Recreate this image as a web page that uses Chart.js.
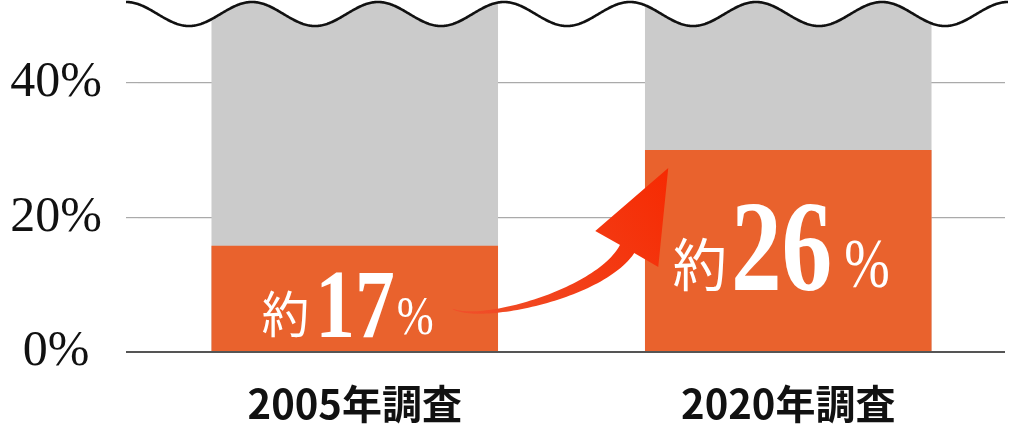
<!DOCTYPE html>
<html><head><meta charset="utf-8">
<script src="https://cdn.jsdelivr.net/npm/chart.js@4.4.1/dist/chart.umd.min.js"></script>
<style>html,body{margin:0;padding:0;background:#fff;} #wrap{width:1022px;height:427px;position:relative;}</style>
</head><body><div id="wrap"><canvas id="c"></canvas></div>
<script>
// ---- data ----
const categories = ['2005年調査', '2020年調査'];
const shareValues = [15.8, 30.0];      // orange bars (as drawn)
const totalValues = [100, 100];        // gray background bars, cut off by the wavy break
const labelValues = ['17', '26'];      // printed values
const labelPrefix = '約';
const labelSuffix = '%';
const yTicks = [0, 20, 40];
const yMax = 52;

// ---- styles ----
const ORANGE = '#E9622D', GRAY = '#CBCBCB';
const labelStyles = [
  {num: 97, cjk: 50, pct: 54, sx: 0.82, gap1: 6, gap2: 2},
  {num: 130, cjk: 57, pct: 70, sx: 0.78, gap1: 4, gap2: 12}
];

const overlay = {
  id: 'overlay',
  afterDatasetsDraw(chart) {
    const ctx = chart.ctx, a = chart.chartArea;
    // wavy break at the top
    const left = a.left - 12, right = a.right + 3;
    const period = (right - left) / 7, mid = a.top + 12, amp = 12;
    const wy = x => mid - amp * Math.cos(2 * Math.PI * (x - left) / period);
    ctx.save();
    ctx.beginPath();
    ctx.moveTo(left, 0);
    for (let x = left; x <= right; x += 1) ctx.lineTo(x, wy(x));
    ctx.lineTo(right, wy(right)); ctx.lineTo(right, 0); ctx.closePath();
    ctx.fillStyle = '#fff'; ctx.fill();
    ctx.beginPath();
    for (let x = left; x <= right; x += 1) { if (x === left) ctx.moveTo(x, wy(x)); else ctx.lineTo(x, wy(x)); }
    ctx.lineTo(right, wy(right));
    ctx.strokeStyle = '#111'; ctx.lineWidth = 2.6; ctx.lineJoin = 'round'; ctx.stroke();
    ctx.restore();

    const bars = chart.getDatasetMeta(0).data;
    // arrow
    const b0 = bars[0], b1 = bars[1];
    const P0 = [b0.x + 98, b0.base - 42], C1 = [b0.x + 128, b0.base - 28];
    const C2 = [b1.x - 185, b1.base - 58], P3 = [b1.x - 160, b1.base - 104];
    const tip = [b1.x - 120, b1.y + 18];
    const w1 = [b1.x - 193, b1.base - 120], w2 = [b1.x - 130, b1.base - 84];
    const bez = (t, i) => { const u = 1 - t; return u*u*u*P0[i] + 3*u*u*t*C1[i] + 3*u*t*t*C2[i] + t*t*t*P3[i]; };
    const dbez = (t, i) => { const u = 1 - t; return 3*u*u*(C1[i]-P0[i]) + 6*u*t*(C2[i]-C1[i]) + 3*t*t*(P3[i]-C2[i]); };
    const N = 60, up = [], dn = [];
    for (let k = 0; k <= N; k++) {
      const t = k / N; const x = bez(t,0), y = bez(t,1);
      let dx = dbez(t,0), dy = dbez(t,1); const l = Math.hypot(dx, dy) || 1; dx /= l; dy /= l;
      const w = (0.8 + 16 * Math.pow(t, 1.3)) / 2;
      up.push([x + dy * w, y - dx * w]); dn.push([x - dy * w, y + dx * w]);
    }
    const grad = ctx.createLinearGradient(P0[0], P0[1], tip[0], tip[1]);
    grad.addColorStop(0, '#F0502A'); grad.addColorStop(1, '#F62A02');
    ctx.save();
    ctx.fillStyle = grad;
    ctx.beginPath();
    up.forEach((p, k) => k ? ctx.lineTo(p[0], p[1]) : ctx.moveTo(p[0], p[1]));
    for (let k = dn.length - 1; k >= 0; k--) ctx.lineTo(dn[k][0], dn[k][1]);
    ctx.closePath(); ctx.fill();
    ctx.beginPath(); ctx.moveTo(tip[0], tip[1]); ctx.lineTo(w1[0], w1[1]);
    ctx.lineTo((w1[0]+w2[0])/2 + 4, (w1[1]+w2[1])/2 + 2); ctx.lineTo(w2[0], w2[1]); ctx.closePath(); ctx.fill();
    ctx.restore();

    // value labels inside orange bars
    bars.forEach((bar, i) => {
      const s = labelStyles[i];
      const cy = (bar.y + bar.base) / 2;
      const base = cy + 39;
      ctx.save();
      ctx.fillStyle = '#fff'; ctx.textBaseline = 'alphabetic'; ctx.textAlign = 'left';
      const fCjk = `400 ${s.cjk}px "Noto Sans CJK JP"`;
      const fNum = `bold ${s.num}px "Liberation Serif"`;
      const fPct = `400 ${s.pct}px "Liberation Serif"`;
      ctx.font = fCjk; const wC = ctx.measureText(labelPrefix).width * 0.95;
      ctx.font = fNum; const wN = ctx.measureText(labelValues[i]).width * s.sx;
      ctx.font = fPct; const wP = ctx.measureText(labelSuffix).width * s.sx;
      const total = wC + s.gap1 + wN + s.gap2 + wP;
      let x = bar.x - 7 - total / 2;
      const draw = (txt, font, sx, y) => { ctx.save(); ctx.font = font; ctx.translate(x, y); ctx.scale(sx, 1); ctx.fillText(txt, 0, 0); ctx.restore(); };
      draw(labelPrefix, fCjk, 0.95, base - 4); x += wC + s.gap1;
      draw(labelValues[i], fNum, s.sx, base); x += wN + s.gap2;
      draw(labelSuffix, fPct, s.sx, base - 3);
      ctx.restore();
    });
  }
};

new Chart(document.getElementById('c'), {
  type: 'bar',
  data: {
    labels: categories,
    datasets: [
      {data: shareValues, backgroundColor: ORANGE, grouped: false, barPercentage: 0.661, categoryPercentage: 1},
      {data: totalValues, backgroundColor: GRAY, grouped: false, barPercentage: 0.661, categoryPercentage: 1}
    ]
  },
  options: {
    responsive: true, maintainAspectRatio: false, animation: false,
    layout: {padding: {top: 2, right: 17, bottom: 0, left: 0}},
    plugins: {legend: {display: false}, tooltip: {enabled: false}},
    scales: {
      x: {
        grid: {display: false, drawTicks: false}, border: {display: false},
        ticks: {color: '#111', padding: 28, font: {family: '"Noto Sans CJK JP"', size: 40, weight: 'bold'}},
        afterFit(s) { s.height = 75; s.paddingLeft = 0; s.paddingRight = 0; }
      },
      y: {
        min: 0, max: yMax,
        border: {display: false},
        grid: {
          color: c => c.tick && c.tick.value === 0 ? '#555' : '#AAAAAA',
          lineWidth: c => c.tick && c.tick.value === 0 ? 2 : 1.2,
          drawTicks: true, tickLength: 12
        },
        afterBuildTicks(s) { s.ticks = yTicks.map(v => ({value: v})); },
        ticks: {
          crossAlign: 'center', padding: 24, color: '#111',
          font: {family: '"Liberation Serif"', size: 50},
          callback: v => v + '%'
        },
        afterFit(s) { s.width = 138; s.paddingTop = 0; s.paddingBottom = 0; }
      }
    }
  },
  plugins: [overlay]
});
</script>
</body></html>
